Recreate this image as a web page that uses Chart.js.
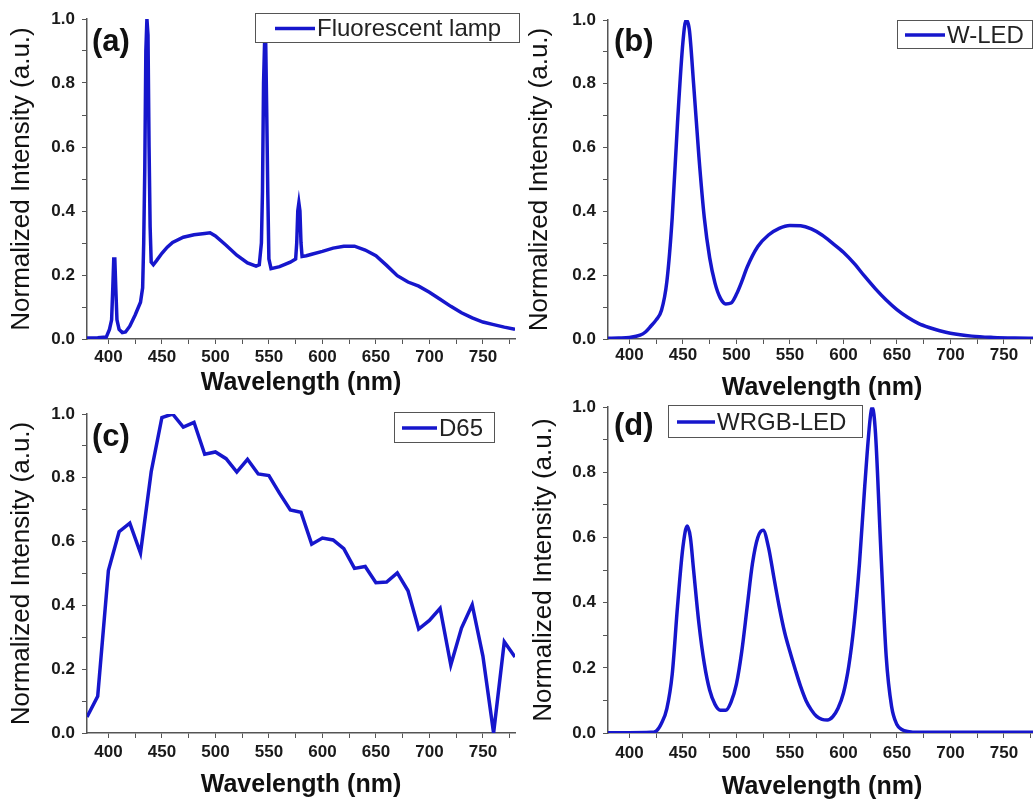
<!DOCTYPE html>
<html>
<head>
<meta charset="utf-8">
<script src="https://cdn.jsdelivr.net/npm/chart.js@4.4.1/dist/chart.umd.min.js"></script>
<style>
	html, body { margin: 0; padding: 0; background: #fff; overflow: hidden; }
	body { position: relative; width: 1033px; height: 800px; }
	canvas { position: absolute; }
</style>
</head>
<body>
<canvas id="chartA" width="522" height="400" style="left:0;top:0"></canvas>
<canvas id="chartB" width="522" height="410" style="left:515px;top:0"></canvas>
<canvas id="chartC" width="522" height="412" style="left:0;top:390px"></canvas>
<canvas id="chartD" width="522" height="412" style="left:515px;top:390px"></canvas>
<script>
// tick values
var xMajorTicks = [400, 450, 500, 550, 600, 650, 700, 750];
var xMinorTicks = [425, 475, 525, 575, 625, 675, 725, 775];
var yMajorTicks = [0, 0.2, 0.4, 0.6, 0.8, 1.0];
var yMinorTicks = [0.1, 0.3, 0.5, 0.7, 0.9];

// (a) fluorescent lamp
var fluoNm = [380, 390, 398, 401, 403, 404, 405, 406, 407, 408, 410, 413, 416, 420, 425, 430, 432, 433, 434, 435, 436, 437, 438, 439, 440, 442, 445, 450, 455, 460, 470, 480, 490, 495, 500, 510, 520, 530, 538, 541, 543, 544, 545, 546, 547, 548, 549, 550, 552, 560, 570, 575, 576, 577, 578, 579, 580, 581, 585, 590, 600, 610, 620, 630, 640, 650, 660, 670, 680, 690, 700, 710, 720, 730, 740, 750, 760, 770, 780];
var fluoVal = [0.003, 0.004, 0.006, 0.03, 0.06, 0.15, 0.25, 0.25, 0.15, 0.06, 0.03, 0.02, 0.022, 0.04, 0.075, 0.115, 0.16, 0.3, 0.53, 0.9, 1.0, 0.95, 0.6, 0.35, 0.24, 0.232, 0.245, 0.268, 0.287, 0.302, 0.318, 0.326, 0.33, 0.332, 0.322, 0.293, 0.262, 0.238, 0.228, 0.232, 0.3, 0.46, 0.8, 0.93, 0.93, 0.7, 0.45, 0.25, 0.22, 0.226, 0.24, 0.25, 0.3, 0.4, 0.425, 0.4, 0.3, 0.258, 0.26, 0.265, 0.274, 0.284, 0.29, 0.29, 0.278, 0.26, 0.23, 0.198, 0.178, 0.165, 0.146, 0.124, 0.102, 0.082, 0.066, 0.053, 0.045, 0.037, 0.03];

// (b) white LED
var wledNm = [380, 390, 400, 410, 415, 420, 425, 430, 435, 440, 445, 450, 453, 456, 460, 465, 470, 475, 480, 485, 490, 495, 500, 505, 510, 520, 530, 540, 550, 560, 570, 580, 590, 600, 610, 620, 630, 640, 650, 660, 670, 680, 690, 700, 720, 740, 760, 780];
var wledVal = [0.002, 0.003, 0.005, 0.012, 0.022, 0.04, 0.06, 0.09, 0.18, 0.38, 0.68, 0.93, 1.0, 0.97, 0.80, 0.57, 0.38, 0.255, 0.175, 0.128, 0.11, 0.113, 0.14, 0.18, 0.225, 0.29, 0.326, 0.347, 0.356, 0.355, 0.345, 0.326, 0.30, 0.272, 0.237, 0.196, 0.157, 0.122, 0.092, 0.068, 0.049, 0.036, 0.026, 0.018, 0.009, 0.005, 0.003, 0.002];

// (c) D65, every 10 nm
var d65Nm = [380, 390, 400, 410, 420, 430, 440, 450, 460, 470, 480, 490, 500, 510, 520, 530, 540, 550, 560, 570, 580, 590, 600, 610, 620, 630, 640, 650, 660, 670, 680, 690, 700, 710, 720, 730, 740, 750, 760, 770, 780];
var d65Val = [0.05, 0.115, 0.509, 0.631, 0.658, 0.564, 0.819, 0.989, 1.0, 0.959, 0.974, 0.874, 0.881, 0.86, 0.818, 0.858, 0.812, 0.807, 0.751, 0.699, 0.692, 0.592, 0.611, 0.605, 0.578, 0.516, 0.522, 0.471, 0.473, 0.502, 0.446, 0.326, 0.353, 0.391, 0.213, 0.329, 0.402, 0.241, 0.0, 0.286, 0.238];

// (d) WRGB LED
var wrgbNm = [380, 400, 420, 425, 430, 435, 440, 445, 450, 454, 457, 460, 465, 470, 475, 480, 485, 490, 495, 500, 505, 510, 515, 520, 525, 530, 535, 540, 545, 550, 555, 560, 565, 570, 575, 580, 585, 590, 595, 600, 605, 610, 615, 620, 625, 627, 630, 635, 640, 645, 650, 655, 660, 670, 700, 740, 780];
var wrgbVal = [0.001, 0.001, 0.002, 0.006, 0.03, 0.075, 0.18, 0.39, 0.57, 0.635, 0.60, 0.50, 0.335, 0.213, 0.132, 0.088, 0.07, 0.07, 0.095, 0.15, 0.25, 0.385, 0.52, 0.60, 0.622, 0.57, 0.478, 0.388, 0.31, 0.25, 0.195, 0.143, 0.10, 0.071, 0.051, 0.042, 0.04, 0.05, 0.076, 0.122, 0.205, 0.335, 0.52, 0.76, 0.965, 1.0, 0.92, 0.56, 0.235, 0.082, 0.026, 0.01, 0.005, 0.002, 0.002, 0.002, 0.002];

var FONT = '"Liberation Sans", Arial, Helvetica, sans-serif';
var BLUE = '#1616cc';

function points(nm, val) {
	return nm.map(function (x, i) { return { x: x, y: val[i] }; });
}

function tickObjs(major, minor) {
	return major.concat(minor).sort(function (a, b) { return a - b; })
		.map(function (v) { return { value: v }; });
}

function isMajor(list, v) {
	return list.some(function (m) { return Math.abs(m - v) < 1e-6; });
}

// panel letter + framed legend, drawn on top of the curve
var decorPlugin = {
	id: 'decor',
	afterDatasetsDraw: function (chart, args, o) {
		var ctx = chart.ctx;
		ctx.save();
		ctx.fillStyle = '#111';
		ctx.textBaseline = 'middle';
		ctx.textAlign = 'left';
		ctx.font = 'bold 31px ' + FONT;
		ctx.fillText(o.label, o.labelX, o.labelY);

		var b = o.box;
		ctx.fillStyle = '#fff';
		ctx.fillRect(b[0], b[1], b[2], b[3]);
		ctx.strokeStyle = '#555';
		ctx.lineWidth = 1;
		ctx.strokeRect(b[0] + 0.5, b[1] + 0.5, b[2], b[3]);

		var cy = b[1] + b[3] / 2 + 1;
		ctx.strokeStyle = BLUE;
		ctx.lineWidth = 3.5;
		ctx.beginPath();
		ctx.moveTo(o.line[0], cy);
		ctx.lineTo(o.line[1], cy);
		ctx.stroke();

		ctx.fillStyle = '#222';
		ctx.font = '24px ' + FONT;
		ctx.fillText(o.text, o.line[1] + 2, cy + 1);
		ctx.restore();
	}
};

function makePanel(id, nm, val, smooth, p) {
	var ctx = document.getElementById(id).getContext('2d');
	return new Chart(ctx, {
		type: 'line',
		data: {
			datasets: [{
				data: points(nm, val),
				borderColor: BLUE,
				borderWidth: 3.5,
				pointRadius: 0,
				tension: smooth ? 0.4 : 0,
				cubicInterpolationMode: smooth ? 'monotone' : 'default',
				fill: false
			}]
		},
		options: {
			responsive: false,
			animation: false,
			events: [],
			layout: { padding: { top: p.top, right: p.right, left: 0, bottom: 0 } },
			plugins: {
				legend: { display: false },
				tooltip: { enabled: false },
				decor: p.decor
			},
			scales: {
				x: {
					type: 'linear',
					min: 380,
					max: 780,
					afterBuildTicks: function (s) { s.ticks = tickObjs(xMajorTicks, xMinorTicks); },
					afterFit: function (s) { s.height = p.xHeight; },
					grid: { drawOnChartArea: false, tickLength: 5, tickColor: '#555' },
					border: { color: '#555', width: 1.5 },
					ticks: {
						autoSkip: false,
						maxRotation: 0,
						padding: p.xPad,
						color: '#1a1a1a',
						font: { family: FONT, size: 17, weight: 'bold' },
						callback: function (v) { return isMajor(xMajorTicks, v) ? String(v) : ''; }
					},
					title: {
						display: true,
						text: 'Wavelength (nm)',
						color: '#111',
						font: { family: FONT, size: 25, weight: 'bold' },
						padding: { top: 0, bottom: p.titlePad }
					}
				},
				y: {
					type: 'linear',
					min: 0,
					max: 1,
					afterBuildTicks: function (s) { s.ticks = tickObjs(yMajorTicks, yMinorTicks); },
					afterFit: function (s) { s.width = p.yWidth; },
					grid: { drawOnChartArea: false, tickLength: 5, tickColor: '#555' },
					border: { color: '#555', width: 1.5 },
					ticks: {
						autoSkip: false,
						padding: 7,
						color: '#1a1a1a',
						font: { family: FONT, size: 17, weight: 'bold' },
						callback: function (v) { return isMajor(yMajorTicks, v) ? v.toFixed(1) : ''; }
					},
					title: {
						display: true,
						text: 'Normalized Intensity (a.u.)',
						color: '#111',
						font: { family: FONT, size: 26 },
						padding: { top: p.yTitlePad, bottom: 0 }
					}
				}
			}
		},
		plugins: [decorPlugin]
	});
}

makePanel('chartA', fluoNm, fluoVal, false, {
	top: 19, right: 7, yWidth: 87, xHeight: 61, xPad: 3, titlePad: 2, yTitlePad: 6,
	decor: { label: '(a)', labelX: 92, labelY: 42, box: [255, 13, 264, 29], line: [275, 315], text: 'Fluorescent lamp' }
});
makePanel('chartB', wledNm, wledVal, true, {
	top: 20, right: 1, yWidth: 93, xHeight: 71, xPad: 1, titlePad: 7, yTitlePad: 9,
	decor: { label: '(b)', labelX: 99, labelY: 42, box: [382, 20, 135, 28], line: [390, 430], text: 'W-LED' }
});
makePanel('chartC', d65Nm, d65Val, false, {
	top: 24, right: 7, yWidth: 87, xHeight: 69, xPad: 4, titlePad: 2, yTitlePad: 6,
	decor: { label: '(c)', labelX: 92, labelY: 47, box: [394, 22, 100, 30], line: [402, 437], text: 'D65' }
});
makePanel('chartD', wrgbNm, wrgbVal, true, {
	top: 15, right: 1, yWidth: 93, xHeight: 69, xPad: 5, titlePad: 0, yTitlePad: 13,
	decor: { label: '(d)', labelX: 99, labelY: 36, box: [153, 15, 194, 32], line: [162, 200], text: 'WRGB-LED' }
});
</script>
</body>
</html>
